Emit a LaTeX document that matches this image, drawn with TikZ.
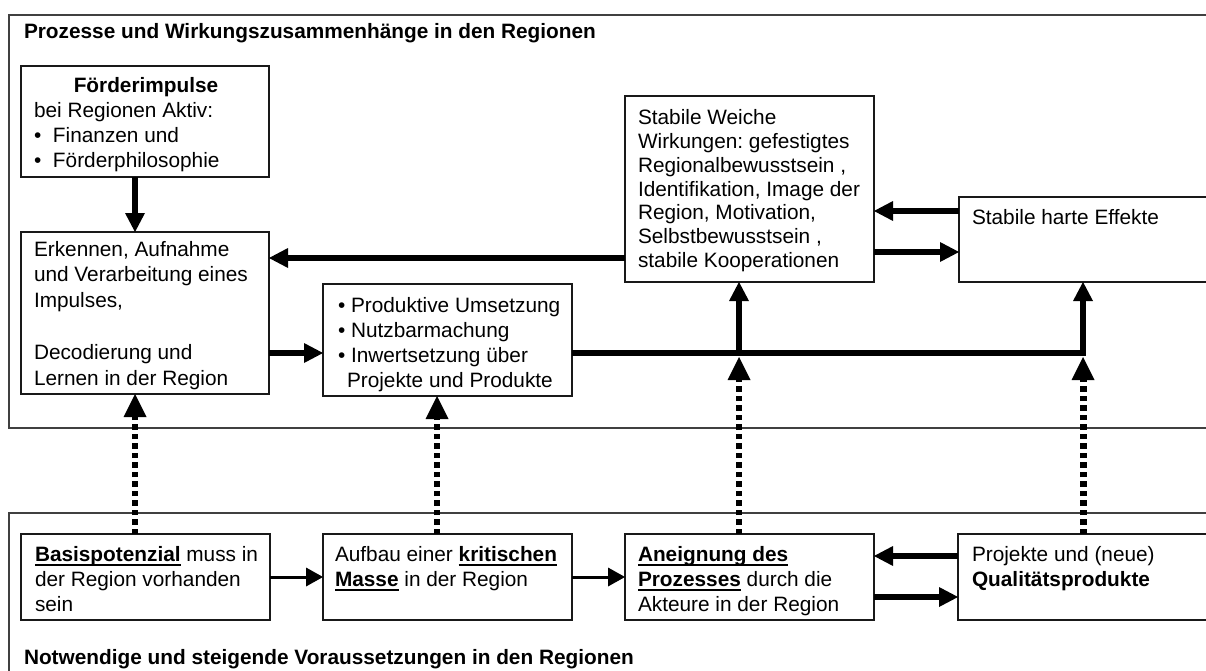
\documentclass[tikz,border=0pt]{standalone}
\usepackage{fontspec}
\setmainfont{Liberation Sans}
\frenchspacing
\newcommand\myul[1]{\leavevmode\setbox0=\hbox{#1}\rlap{\vrule width\wd0 height -2.8pt depth 5.4pt}\box0\relax}
\usetikzlibrary{arrows.meta,calc}
\begin{document}
\begin{tikzpicture}[x=1pt,y=-1pt,
  frame/.style={draw=black!75, line width=1.6pt},
  box/.style={draw=black!90, line width=1.5pt, inner sep=0pt, outer sep=0pt, anchor=north west},
  txt/.style={inner sep=0pt, outer sep=0pt, anchor=base west, font=\fontsize{20.8pt}{25pt}\selectfont\frenchspacing},
  ttl/.style={inner sep=0pt, outer sep=0pt, anchor=base west, font=\fontsize{20.8pt}{25pt}\selectfont\bfseries},
  heavy/.style={line width=6pt, -{Triangle[length=19pt,width=20pt,line width=0pt]}},
  light/.style={line width=3pt, -{Triangle[length=17pt,width=19pt,line width=0pt]}},
  dotarrow/.style={line width=5.5pt, dash pattern=on 5.5pt off 4pt, -{Triangle[length=23pt,width=23pt,line width=0pt]}},
  thickline/.style={line width=6pt}
]
\useasboundingbox (0,0) rectangle (1206,671);
\clip (0,0) rectangle (1206,671);

% frames
\draw[frame] (9,15) rectangle (1240,428);
\draw[frame] (9,513) rectangle (1240,700);
\node[ttl] (toptitle) at (24,39) {Prozesse und Wirkungszusammenhänge in den Regionen};
\node[ttl] (bottitle) at (24,664) {Notwendige und steigende Voraussetzungen in den Regionen};

% boxes
\node[box, minimum width=248pt, minimum height=111pt] (foerder) at (21,66) {};
\node[box, minimum width=248pt, minimum height=162pt] (erkennen) at (21,232) {};
\node[box, minimum width=249pt, minimum height=112pt] (produktiv) at (323,284) {};
\node[box, minimum width=249pt, minimum height=186pt] (weiche) at (625,96) {};
\node[box, minimum width=270pt, minimum height=85pt] (harte) at (959,197) {};
\node[box, minimum width=249pt, minimum height=86pt] (basis) at (21,534) {};
\node[box, minimum width=249pt, minimum height=86pt] (aufbau) at (323,534) {};
\node[box, minimum width=249pt, minimum height=86pt] (aneignung) at (625,534) {};
\node[box, minimum width=270pt, minimum height=86pt] (projekte) at (958,534) {};

% texts
\node[txt] (tfoerder) at (34,93) {\parbox[t]{235pt}{\makebox[224pt][c]{\bfseries Förderimpulse}\\bei Regionen Aktiv:\\\makebox[19pt][l]{•}Finanzen und\\\makebox[19pt][l]{•}Förderphilosophie}};
\node[txt] (terkennen) at (34,256) {\parbox[t]{235pt}{\baselineskip=25.8pt Erkennen, Aufnahme\\und Verarbeitung eines\\Impulses,\\\mbox{}\\Decodierung und\\Lernen in der Region}};
\node[txt] (tproduktiv) at (338,312) {\parbox[t]{235pt}{• Produktive Umsetzung\\• Nutzbarmachung\\• Inwertsetzung über\\\hspace*{9pt}Projekte und Produkte}};
\node[txt] (tweiche) at (638,125) {\parbox[t]{235pt}{\baselineskip=23.67pt Stabile Weiche\\Wirkungen: gefestigtes\\Regionalbewusstsein ,\\Identifikation, Image der\\Region, Motivation,\\Selbstbewusstsein ,\\stabile Kooperationen}};
\node[txt] (tharte) at (972,224) {Stabile harte Effekte};
\node[txt] (tbasis) at (35,561) {\parbox[t]{235pt}{\myul{\textbf{Basispotenzial}} muss in\\der Region vorhanden\\sein}};
\node[txt] (taufbau) at (335,561) {\parbox[t]{235pt}{Aufbau einer \myul{\textbf{kritischen}}\\\myul{\textbf{Masse}} in der Region}};
\node[txt] (taneignung) at (638,561) {\parbox[t]{235pt}{\myul{\textbf{Aneignung des}}\\\myul{\textbf{Prozesses}} durch die\\Akteure in der Region}};
\node[txt] (tprojekte) at (972,561) {\parbox[t]{235pt}{Projekte und (neue)\\\textbf{Qualitätsprodukte}}};

% helper coordinates
\coordinate (x1) at (135,0);
\coordinate (x2) at (437,0);
\coordinate (j1) at (739,353);
\coordinate (j2) at (1083,353);
\coordinate (c258) at (0,258);
\coordinate (c211) at (0,211);
\coordinate (c252) at (0,252);
\coordinate (c577) at (0,577);
\coordinate (c556) at (0,556);
\coordinate (c597) at (0,597);

% solid connectors
\draw[heavy] (foerder.south -| x1) -- (erkennen.north -| x1);
\draw[heavy] (weiche.west |- c258) -- (erkennen.east |- c258);
\draw[heavy] (harte.west |- c211) -- (weiche.east |- c211);
\draw[heavy] (weiche.east |- c252) -- (harte.west |- c252);
\draw[heavy] (erkennen.east |- j1) -- (produktiv.west |- j1);
\draw[thickline] (produktiv.east |- j1) -- ($(j2)+(3,0)$);
\draw[heavy] ($(j1)+(0,3)$) -- (weiche.south -| j1);
\draw[heavy] ($(j2)+(0,3)$) -- (harte.south -| j2);

% dotted connectors
\draw[dotarrow] (basis.north -| x1) -- (erkennen.south -| x1);
\draw[dotarrow] (aufbau.north -| x2) -- (produktiv.south -| x2);
\draw[dotarrow] (aneignung.north -| j1) -- ($(j1)+(0,4)$);
\draw[dotarrow, line width=7pt] (projekte.north -| j2) -- ($(j2)+(0,4)$);

% bottom row connectors
\draw[light] (basis.east |- c577) -- (aufbau.west |- c577);
\draw[light] (aufbau.east |- c577) -- (aneignung.west |- c577);
\draw[heavy] (projekte.west |- c556) -- (aneignung.east |- c556);
\draw[heavy] (aneignung.east |- c597) -- (projekte.west |- c597);
\end{tikzpicture}
\end{document}
